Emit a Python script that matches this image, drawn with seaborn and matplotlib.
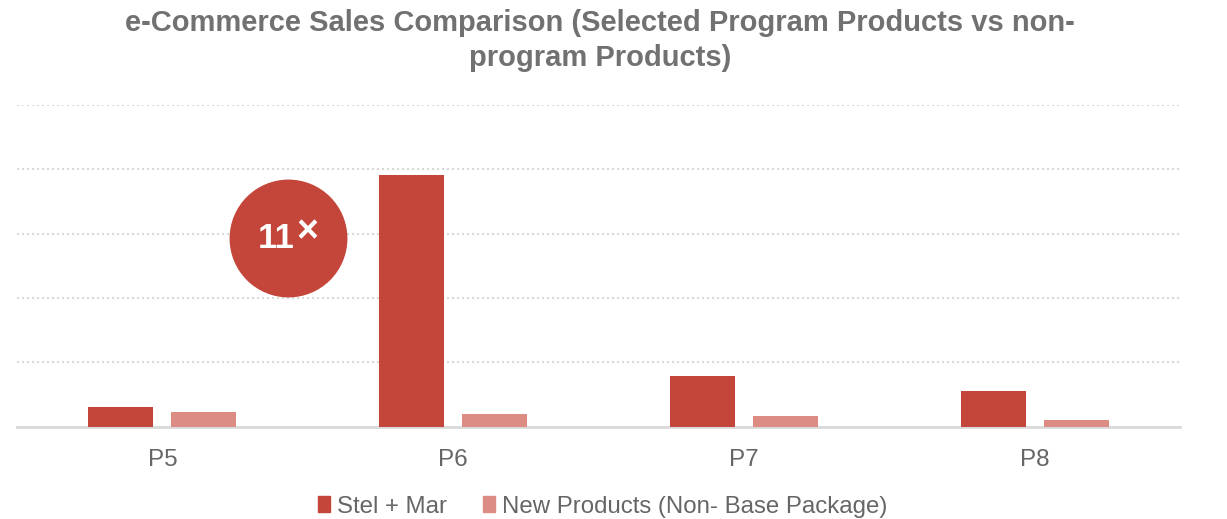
import matplotlib
matplotlib.use("Agg")
import matplotlib.pyplot as plt
import seaborn as sns
import pandas as pd

# Data
products = ["P5", "P6", "P7", "P8"]
stel_mar = [31, 391, 79, 55]
new_products = [22, 20, 16, 11]
series_names = ["Stel + Mar", "New Products (Non- Base Package)"]
title = "e-Commerce Sales Comparison (Selected Program Products vs non-\nprogram Products)"
badge_label = "11"

RED = "#C4463A"
PINK = "#DD8C83"
TEXT = "#666666"
TITLE = "#717171"
GRID = "#D9D9D9"

df = pd.DataFrame({
    "product": products * 2,
    "value": stel_mar + new_products,
    "series": [series_names[0]] * 4 + [series_names[1]] * 4,
})

sns.set_theme(style="white")
plt.rcParams["font.family"] = ["Liberation Sans", "DejaVu Sans"]

fig = plt.figure(figsize=(12.27, 5.19), dpi=100)
ax = fig.add_axes([0.0139, 0.178, 0.9478, 0.6197])

sns.barplot(data=df, x="product", y="value", hue="series", order=products,
            hue_order=series_names, palette=[RED, PINK], width=0.571, gap=0.217,
            saturation=1, edgecolor="none", legend=False, ax=ax, zorder=3)

ax.set_ylim(0, 500)
ax.set_xlim(-0.5, 3.5)
ax.set_yticks(range(0, 501, 100))
ax.set_yticklabels([])
ax.yaxis.grid(True, color=GRID, linestyle=(0, (1, 1.4)), linewidth=1.5, zorder=0)
ax.xaxis.grid(False)
for side in ["left", "right", "top"]:
    ax.spines[side].set_visible(False)
ax.spines["bottom"].set_color(GRID)
ax.spines["bottom"].set_linewidth(2)
ax.tick_params(axis="x", length=0, pad=16, labelsize=17.5, labelcolor=TEXT)
ax.tick_params(axis="y", length=0)
ax.set_xlabel("")
ax.set_ylabel("")

# Multiplier badge
ax.scatter([0.432], [294], s=7200, color=RED, zorder=4, linewidths=0)
ax.text(0.391, 292, badge_label, color="white", fontsize=25, fontweight="bold",
        ha="center", va="center", zorder=5)
ax.text(0.497, 303, "×", color="white", fontsize=27, fontweight="bold",
        ha="center", va="center", zorder=5)

fig.suptitle(title, x=0.489, y=0.982, fontsize=21, fontweight="bold",
             color=TITLE, linespacing=1.28, va="top")

handles = [plt.Rectangle((0, 0), 1, 1, color=c) for c in (RED, PINK)]
leg = fig.legend(handles, series_names, loc="center", bbox_to_anchor=(0.491, 0.024),
                 ncol=2, frameon=False, fontsize=17.3, handlelength=0.5,
                 handleheight=0.6, handletextpad=0.3, columnspacing=1.5)
for t in leg.get_texts():
    t.set_color(TEXT)

fig.savefig("out.png", dpi=100)
